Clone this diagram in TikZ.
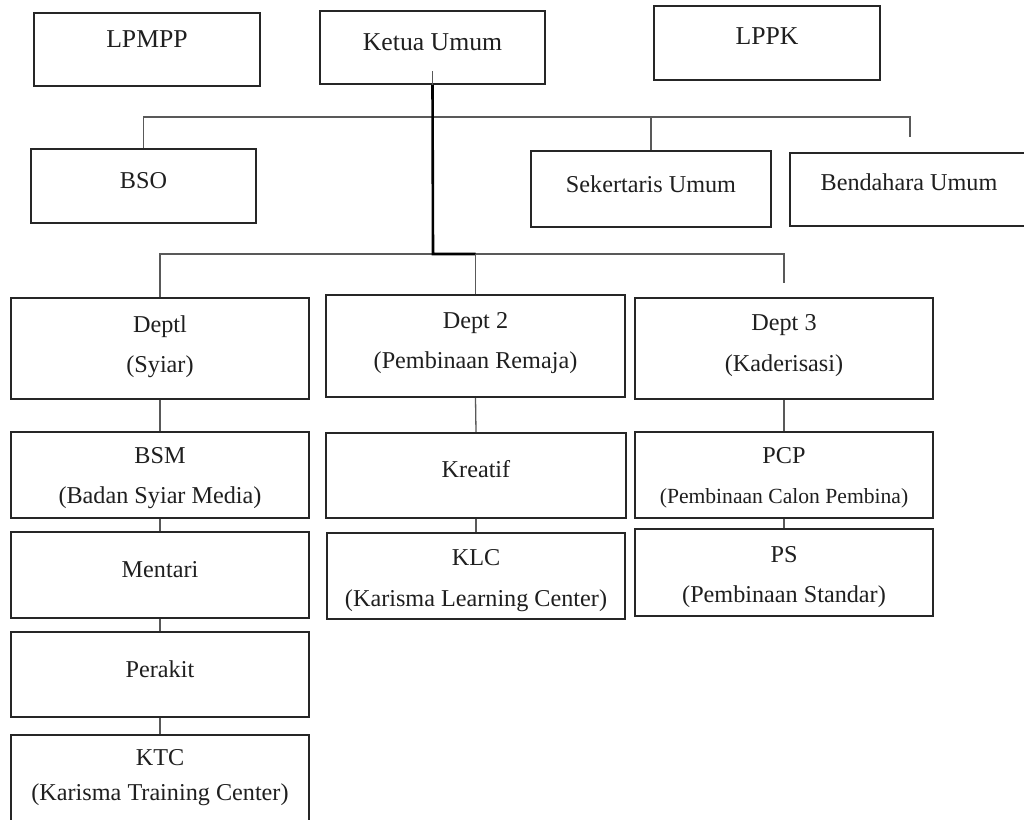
\documentclass[tikz,border=0pt]{standalone}
\usepackage{fontspec}
\setmainfont{Liberation Serif}
\begin{document}
\begin{tikzpicture}[x=1pt,y=-1pt,
  box/.style={draw=black!85, line width=2.2pt, rectangle, inner sep=0pt, fill=none},
  lbl/.style={anchor=base, inner sep=0pt, text=black!88, font=\fontsize{24.2}{29}\selectfont},
  lblt/.style={anchor=base, inner sep=0pt, text=black!88, font=\fontsize{25.7}{30}\selectfont},
  lbls/.style={anchor=base, inner sep=0pt, text=black!88, font=\fontsize{21.6}{26}\selectfont},
  conn/.style={draw=black!65, line width=1.3pt},
  trunk/.style={draw=black, line width=2.6pt}]
\useasboundingbox (0,0) rectangle (1024,819);
\fill[white] (0,0) rectangle (1024,819);
\clip (0,0) rectangle (1024,819);
\newcommand\mybox[5]{\node[box, minimum width={(#4-#2)*1pt}, minimum height={(#5-#3)*1pt}] (#1) at ({(#2+#4)/2},{(#3+#5)/2}) {};}
% boxes
\mybox{lpmpp}{34}{13}{260}{86}
\mybox{ketua}{320}{11}{545}{84}
\mybox{lppk}{654}{6}{880}{80}
\mybox{bso}{31}{149}{256}{223}
\mybox{sek}{531}{151}{771}{227}
\mybox{bend}{790}{153}{1030}{226}
\mybox{dept1}{11}{298}{309}{399}
\mybox{dept2}{326}{295}{625}{397}
\mybox{dept3}{635}{298}{933}{399}
\mybox{bsm}{11}{432}{309}{518}
\mybox{kreatif}{326}{433}{626}{518}
\mybox{pcp}{635}{432}{933}{518}
\mybox{mentari}{11}{532}{309}{618}
\mybox{klc}{327}{533}{625}{619}
\mybox{ps}{635}{529}{933}{616}
\mybox{perakit}{11}{632}{309}{717}
\mybox{ktc}{11}{735}{309}{822}
% labels
\node[lblt] (tlpmpp) at (147,47) {LPMPP};
\node[lblt] (tketua) at (432.5,50) {Ketua Umum};
\node[lblt] (tlppk) at (767,44) {LPPK};
\node[lbl] (tbso) at (143.5,188) {BSO};
\node[lbl] (tsek) at (651,192) {Sekertaris Umum};
\node[lbl] (tbend) at (909,190) {Bendahara Umum};
\node[lbl] (td1a) at (160,332) {Deptl};
\node[lbl] (td1b) at (160,372) {(Syiar)};
\node[lbl] (td2a) at (475.5,328) {Dept 2};
\node[lbl] (td2b) at (475.5,368) {(Pembinaan Remaja)};
\node[lbl] (td3a) at (784,330) {Dept 3};
\node[lbl] (td3b) at (784,371) {(Kaderisasi)};
\node[lbl] (tbsma) at (160,463) {BSM};
\node[lbl] (tbsmb) at (160,503) {(Badan Syiar Media)};
\node[lbl] (tkreatif) at (476,477) {Kreatif};
\node[lbl] (tpcpa) at (784,463) {PCP};
\node[lbls] (tpcpb) at (784,503) {(Pembinaan Calon Pembina)};
\node[lbl] (tmentari) at (160,577) {Mentari};
\node[lbl] (tklca) at (476,565) {KLC};
\node[lbl] (tklcb) at (476,606) {(Karisma Learning Center)};
\node[lbl] (tpsa) at (784,562) {PS};
\node[lbl] (tpsb) at (784,602) {(Pembinaan Standar)};
\node[lbl] (tperakit) at (160,677) {Perakit};
\node[lbl] (tktca) at (160,765) {KTC};
\node[lbl] (tktcb) at (160,800) {(Karisma Training Center)};
% connectors
\coordinate (bus1) at (433,117);
\coordinate (bus2) at (433,254);
\coordinate (bendstub) at (910,137);
\coordinate (d3stub) at (784,283);
\draw[conn] (bso.north) |- (bendstub |- bus1) -- (bendstub);
\draw[conn] (sek.north) -- (sek.north |- bus1);
\draw[conn] (dept1.north) |- (d3stub |- bus2) -- (d3stub);
\draw[conn] ([yshift=14pt]ketua.south) -- (ketua.south);
\draw[trunk] (ketua.south) -- (bus2) -- (bus2 -| dept2.north);
\draw[conn, line width=1.8pt] (bus2 -| dept2.north) -- (dept2.north);
\draw[conn] (dept1.south) -- (bsm.north);
\draw[conn] (bsm.south) -- (mentari.north);
\draw[conn] (mentari.south) -- (perakit.north);
\draw[conn] (perakit.south) -- (ktc.north);
\draw[conn] (dept2.south) -- (kreatif.north);
\draw[conn] (kreatif.south) -- (klc.north);
\draw[conn] (dept3.south) -- (pcp.north);
\draw[conn] (pcp.south) -- (ps.north);
\end{tikzpicture}
\end{document}
